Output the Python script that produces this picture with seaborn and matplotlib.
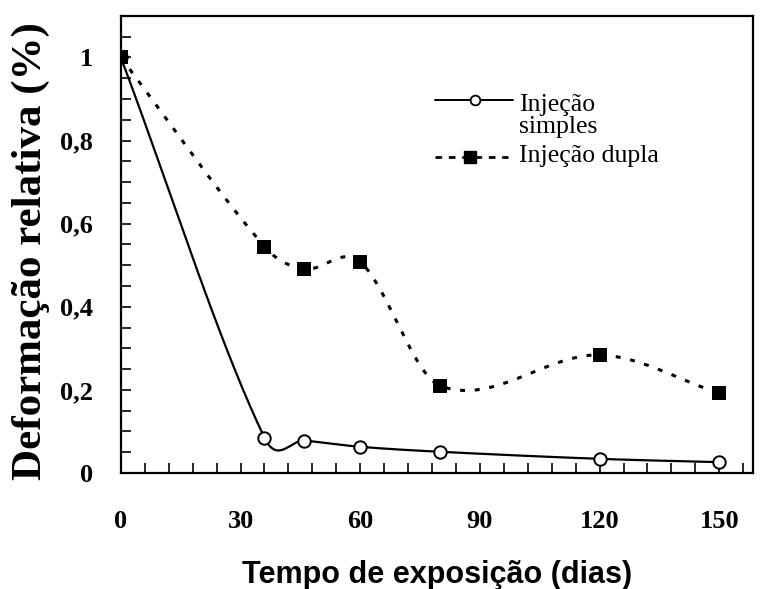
import numpy as np
import pandas as pd
import matplotlib
matplotlib.use("Agg")
import matplotlib.pyplot as plt
import seaborn as sns

# Exposure time (days) and relative deformation for each injection type
dias = [0, 36, 46, 60, 80, 120, 150]
injecao_simples = [1.0, 0.085, 0.078, 0.063, 0.051, 0.034, 0.026]
injecao_dupla = [1.0, 0.545, 0.491, 0.508, 0.21, 0.284, 0.192]
xticks = [0, 30, 60, 90, 120, 150]
yticks = [0, 0.2, 0.4, 0.6, 0.8, 1.0]
ytick_labels = ["0", "0,2", "0,4", "0,6", "0,8", "1"]


def smooth_curve(x, y, per_seg=60):
    """Cubic Hermite (Catmull-Rom style) curve through the points."""
    x = np.asarray(x, float)
    y = np.asarray(y, float)
    k = len(x)
    m = np.empty(k)
    m[0] = (y[1] - y[0]) / (x[1] - x[0])
    m[-1] = (y[-1] - y[-2]) / (x[-1] - x[-2])
    m[1:-1] = (y[2:] - y[:-2]) / (x[2:] - x[:-2])
    xs_all, ys_all = [], []
    for i in range(k - 1):
        h = x[i + 1] - x[i]
        t = np.linspace(0, 1, per_seg, endpoint=(i == k - 2))
        h00 = 2 * t**3 - 3 * t**2 + 1
        h10 = t**3 - 2 * t**2 + t
        h01 = -2 * t**3 + 3 * t**2
        h11 = t**3 - t**2
        xs_all.append(x[i] + t * h)
        ys_all.append(h00 * y[i] + h10 * h * m[i] + h01 * y[i + 1] + h11 * h * m[i + 1])
    return np.concatenate(xs_all), np.concatenate(ys_all)


sns.set_theme(style="ticks")
plt.rcParams["font.family"] = ["Liberation Serif", "DejaVu Serif"]
plt.rcParams.update({"text.color": "black", "axes.labelcolor": "black",
                     "xtick.color": "black", "ytick.color": "black"})

fig = plt.figure(figsize=(7.6, 5.89), dpi=100)
ax = fig.add_axes([0.159, 0.197, 0.832, 0.776])

xs1, ys1 = smooth_curve(dias, injecao_simples)
xs2, ys2 = smooth_curve(dias, injecao_dupla)
curve_simples = pd.DataFrame({"x": xs1, "y": ys1})
curve_dupla = pd.DataFrame({"x": xs2, "y": ys2})
pts = pd.DataFrame({"dias": dias, "simples": injecao_simples, "dupla": injecao_dupla})

sns.lineplot(data=curve_simples, x="x", y="y", ax=ax, color="black", lw=1.6,
             estimator=None, sort=False)
sns.lineplot(data=curve_dupla, x="x", y="y", ax=ax, color="black", lw=2.2,
             estimator=None, sort=False, dashes=False, linestyle=(0, (1.6, 3.2)))
sns.scatterplot(data=pts, x="dias", y="simples", ax=ax, marker="o", s=80,
                facecolor="white", edgecolor="black", linewidth=1.4, zorder=5)
sns.scatterplot(data=pts, x="dias", y="dupla", ax=ax, marker="s", s=90,
                color="black", edgecolor="black", linewidth=0, zorder=5)

ax.set_xlim(0, 158.5)
ax.set_ylim(0, 1.1)
ax.set_xticks(xticks)
ax.set_xticks(np.arange(0, 159, 6), minor=True)
ax.set_yticks(yticks)
ax.set_yticklabels(ytick_labels)
ax.set_yticks(np.arange(0, 1.1, 0.05), minor=True)
ax.tick_params(axis="both", which="both", direction="in", length=7, width=1.2,
               color="black", labelcolor="black")
ax.tick_params(axis="x", which="major", pad=27)
ax.tick_params(axis="y", which="major", pad=20)
for lab in ax.get_xticklabels() + ax.get_yticklabels():
    lab.set_fontsize(19)
    lab.set_fontweight("bold")
    lab.set_family(["Liberation Serif"])
for sp in ax.spines.values():
    sp.set_linewidth(1.6)
    sp.set_color("black")

ax.set_xlabel("Tempo de exposição (dias)", fontsize=22, fontweight="bold",
              family=["Liberation Sans", "DejaVu Sans"], color="black")
ax.set_ylabel("Deformação relativa (%)", fontsize=31, fontweight="bold",
              family=["Liberation Serif", "DejaVu Serif"], va="center",
              color="black")
ax.xaxis.set_label_coords(0.5, -0.19)
ax.yaxis.set_label_coords(-0.143, 0.485)

# Legend drawn in axes coordinates
tr = ax.transAxes
ax.plot([0.497, 0.620], [0.816, 0.816], transform=tr, color="black", lw=1.4)
ax.plot([0.560], [0.816], transform=tr, marker="o", ms=7, mfc="white",
        mec="black", mew=1.3)
ax.text(0.630, 0.830, "Injeção\nsimples", transform=tr, fontsize=18.5,
        va="top", ha="left", linespacing=1.05, color="black")
ax.plot([0.497, 0.612], [0.691, 0.691], transform=tr, color="black", lw=2.0,
        linestyle=(0, (2.4, 2.4)))
ax.plot([0.552], [0.691], transform=tr, marker="s", ms=8, color="black")
ax.text(0.630, 0.693, "Injeção dupla", transform=tr, fontsize=18.5,
        va="center", ha="left", color="black")

fig.savefig("out.png", dpi=100)
